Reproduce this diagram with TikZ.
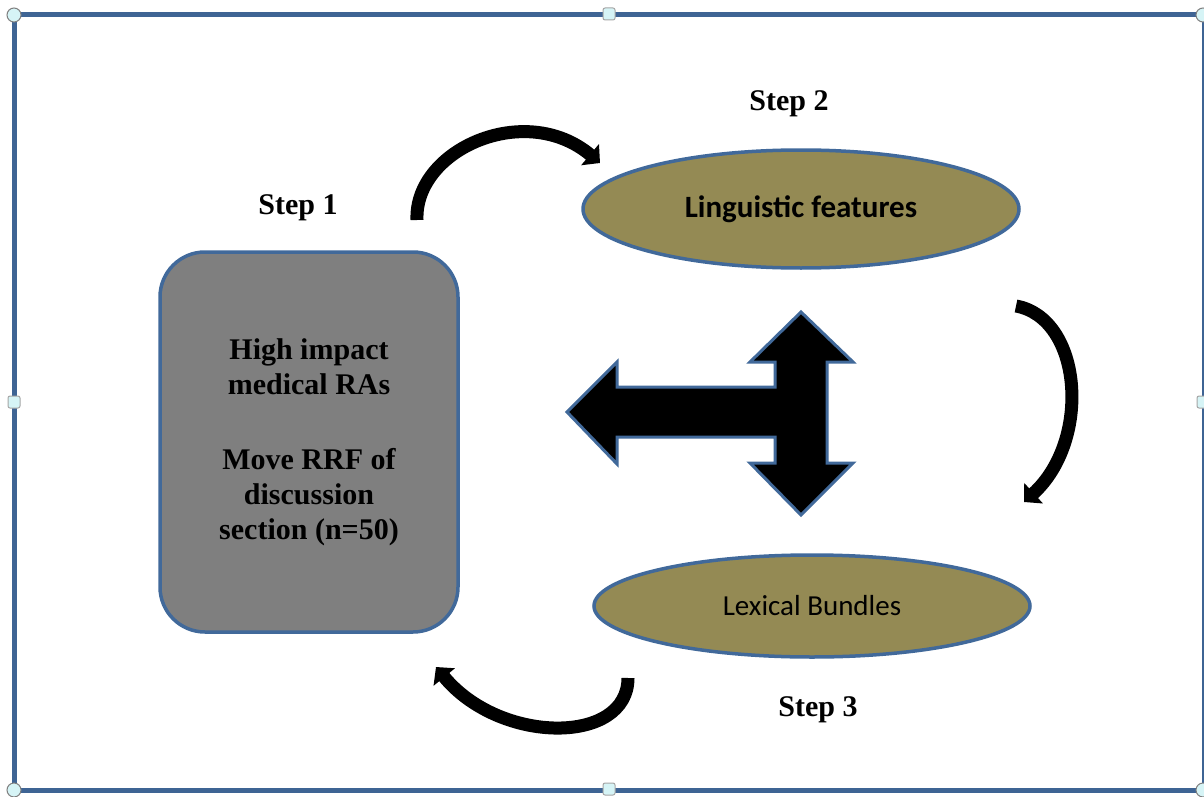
\documentclass[tikz,border=0pt]{standalone}
\usepackage{fontspec}
\setmainfont{Liberation Serif}
\newfontfamily\calib{Carlito}
\usetikzlibrary{arrows.meta,shapes.geometric}
\definecolor{frameblue}{HTML}{3E6494}
\definecolor{edgeblue}{HTML}{41699A}
\definecolor{boxgray}{HTML}{7F7F7F}
\definecolor{olive}{HTML}{948A54}
\definecolor{handle}{HTML}{D6F4F6}
\tikzset{
  steplabel/.style={font=\fontsize{30}{34}\selectfont\bfseries},
  srcbox/.style={draw=edgeblue,line width=3.5pt,fill=boxgray,rounded corners=45pt,
     minimum width=298pt,minimum height=380pt,align=center,
     font=\fontsize{30}{35}\selectfont\bfseries},
  oval/.style={ellipse,draw=edgeblue,line width=3.5pt,fill=olive,inner sep=0pt},
  curvarrow/.style={line width=13pt,draw=black,-{Triangle[width=27pt,length=13pt]}},
  hub/.style={draw=edgeblue,line width=3pt,fill=black,line join=miter},
  framebar/.style={draw=frameblue,line width=5pt},
  cornerhandle/.style={circle,draw=gray,fill=handle,line width=1pt,minimum size=14pt,inner sep=0pt},
  sidehandle/.style={rectangle,rounded corners=2pt,draw=gray!70,fill=handle,line width=1pt,minimum size=12pt,inner sep=0pt}
}
\begin{document}
\begin{tikzpicture}[x=1pt,y=-1pt]
\useasboundingbox (0,0) rectangle (1204,797);
\fill[white] (0,0) rectangle (1204,797);
% frame
\coordinate (tl) at (14,15);
\coordinate (tr) at (1203,15);
\coordinate (bl) at (14,790);
\coordinate (br) at (1203,790);
\draw[framebar] (tr) -- (tl) -- (bl) -- (br);
\draw[draw=frameblue,line width=2pt] (tr) -- (br);
\node[cornerhandle] (h1) at (tl) {};
\node[cornerhandle] (h2) at (tr) {};
\node[cornerhandle] (h3) at (bl) {};
\node[cornerhandle] (h4) at (br) {};
\node[sidehandle] (h5) at (609,14) {};
\node[sidehandle] (h6) at (609,789) {};
\node[sidehandle] (h7) at (14,402) {};
\node[sidehandle] (h8) at (1203,402) {};

% source box
\node[srcbox] (src) at (309,442) {High impact\\medical RAs\\[40pt]Move RRF of\\discussion\\section (n=50)};
\node[steplabel] (s1) at (298,208) {Step 1};

% ellipses
\node[oval,minimum width=436pt,minimum height=118pt,font=\calib\fontsize{31}{34}\selectfont\bfseries] (ling) at (801,209) {Linguistic features};
\node[steplabel] (s2) at (789,104) {Step 2};
\node[oval,minimum width=436pt,minimum height=102pt,font=\calib\fontsize{29}{32}\selectfont] (lex) at (812,606) {Lexical Bundles};
\node[steplabel] (s3) at (818,710) {Step 3};

% central three-way arrow
\draw[hub] (567,412) -- (617,362) -- (617,387) -- (775,387) -- (775,362) -- (750,362)
  -- (801,312) -- (853,362) -- (827,362) -- (827,463) -- (853,463) -- (801,515)
  -- (750,463) -- (775,463) -- (775,437) -- (617,437) -- (617,464) -- cycle;

% curved arrows
\coordinate (a1s) at (417,220);
\coordinate (a1e) at (600,163);
\draw[curvarrow] (a1s) .. controls (414,150) and (525,100) .. (a1e);
\coordinate (a2s) at (1016,306);
\coordinate (a2e) at (1024,502);
\draw[curvarrow] (a2s) .. controls (1082,318) and (1092,440) .. (a2e);
\coordinate (a3s) at (628,678);
\coordinate (a3e) at (436,667);
\draw[curvarrow] (a3s) .. controls (628,745) and (500,745) .. (a3e);
\end{tikzpicture}
\end{document}
